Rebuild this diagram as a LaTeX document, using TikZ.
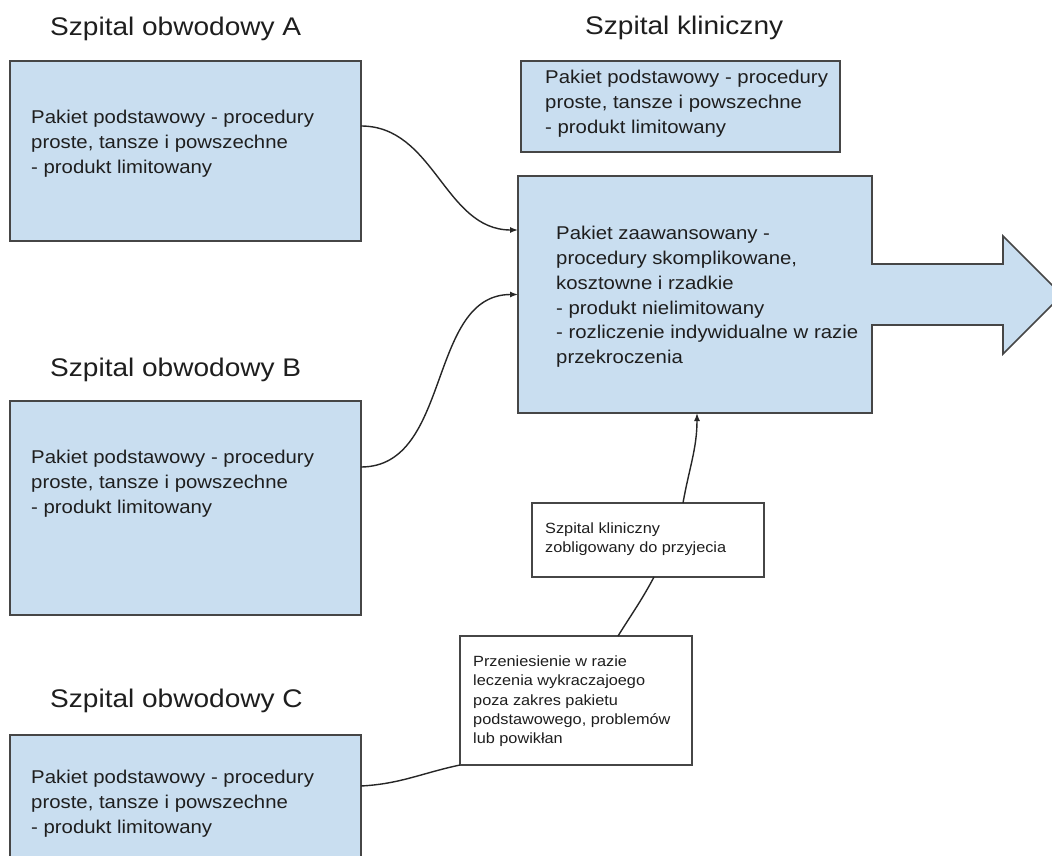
\documentclass[tikz,border=0pt]{standalone}
\usepackage{fontspec}
\setmainfont{Liberation Sans}[FakeStretch=1.1]
\usetikzlibrary{arrows.meta}
\definecolor{boxfill}{RGB}{201,222,240}
\definecolor{boxline}{RGB}{70,70,70}
\definecolor{txt}{RGB}{30,30,30}
\tikzset{
  bluebox/.style={draw=boxline, fill=boxfill, line width=1.6pt, inner sep=0pt, outer sep=0pt},
  whitebox/.style={draw=boxline, fill=white, line width=1.6pt, inner sep=0pt, outer sep=0pt},
  titletext/.style={anchor=base west, inner sep=0pt, text=txt, font=\fontsize{25.5}{30}\selectfont},
  bodytext/.style={anchor=north west, inner sep=0pt, align=left, text=txt, font=\fontsize{18.5}{24.9}\selectfont},
  smalltext/.style={anchor=north west, inner sep=0pt, align=left, text=txt, font=\fontsize{14.8}{19.4}\selectfont},
  conn/.style={draw=black!85, line width=1.4pt},
  connarrow/.style={conn, -{Latex[length=8pt,width=6pt]}}
}
\begin{document}
\begin{tikzpicture}[x=1pt,y=-1pt]
\useasboundingbox (0,0) rectangle (1052,856);
\clip (0,0) rectangle (1052,856);
\fill[white] (0,0) rectangle (1052,856);

% titles
\node[titletext] (tA) at (50,36) {Szpital obwodowy A};
\node[titletext] (tK) at (585,35) {Szpital kliniczny};
\node[titletext] (tB) at (50,376) {Szpital obwodowy B};
\node[titletext] (tC) at (50,707) {Szpital obwodowy C};

% district hospital boxes
\node[bluebox, minimum width=351, minimum height=180] (boxA) at (185.5,151) {};
\node[bluebox, minimum width=351, minimum height=214] (boxB) at (185.5,508) {};
\node[bluebox, minimum width=351, minimum height=215] (boxC) at (185.5,842.5) {};
\node[bodytext] (txA) at (31,109.7) {Pakiet podstawowy - procedury\\proste, tansze i powszechne\\- produkt limitowany};
\node[bodytext] (txB) at (31,449.7) {Pakiet podstawowy - procedury\\proste, tansze i powszechne\\- produkt limitowany};
\node[bodytext] (txC) at (31,769.7) {Pakiet podstawowy - procedury\\proste, tansze i powszechne\\- produkt limitowany};

% clinical hospital
\node[bluebox, minimum width=319, minimum height=91] (boxK) at (680.5,106.5) {};
\node[bodytext] (txK) at (545,69.7) {Pakiet podstawowy - procedury\\proste, tansze i powszechne\\- produkt limitowany};

\filldraw[draw=boxline, fill=boxfill, line width=1.6pt, line join=miter]
  (518,176) -- (872,176) -- (872,264) -- (1003,264) -- (1003,236) -- (1062,295)
  -- (1003,354) -- (1003,325) -- (872,325) -- (872,413) -- (518,413) -- cycle;
\node[minimum width=354, minimum height=237, inner sep=0pt, outer sep=0pt] (big) at (695,294.5) {};
\node[bodytext] (txBig) at (556,225.7) {Pakiet zaawansowany -\\procedury skomplikowane,\\kosztowne i rzadkie\\- produkt nielimitowany\\- rozliczenie indywidualne w razie\\przekroczenia};

% white note boxes
\node[whitebox, minimum width=232, minimum height=74] (sk) at (648,540) {};
\node[smalltext] (txSk) at (545,522.4) {Szpital kliniczny\\zobligowany do przyjecia};
\node[whitebox, minimum width=232, minimum height=129] (prz) at (576,700.5) {};
\node[smalltext] (txPrz) at (473,655.3) {Przeniesienie w razie\\leczenia wykraczajoego\\poza zakres pakietu\\podstawowego, problemów\\lub powikłan};

% connectors
\draw[connarrow] ([yshift=25pt]boxA.east) to[out=0,in=180] ([yshift=64.5pt]big.west);
\draw[connarrow] ([yshift=41pt]boxB.east) to[out=0,in=180] (big.west);
\draw[connarrow] ([xshift=35pt]sk.north) to[out=80,in=-90] ([xshift=2pt]big.south);
\draw[conn] ([xshift=42pt]prz.north) to[out=58,in=-118] ([xshift=6pt]sk.south);
\draw[conn] ([yshift=56.5pt]boxC.east) to[out=3,in=192] (prz.south west);
\end{tikzpicture}
\end{document}
